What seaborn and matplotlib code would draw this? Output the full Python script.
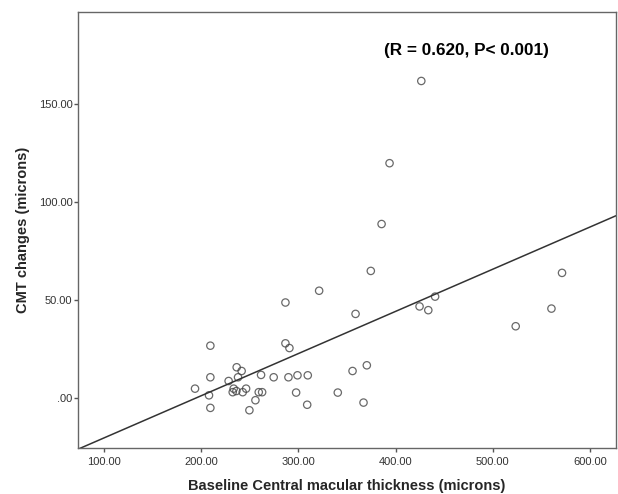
import numpy as np
import pandas as pd
import seaborn as sns
import matplotlib
matplotlib.use("Agg")
import matplotlib.pyplot as plt
from matplotlib.ticker import FuncFormatter

# values
baseline_cmt = [426.5, 393.8, 385.6, 374.5, 321.3, 286.6, 358.8, 424.7, 433.7, 440.7,
                571.4, 560.5, 523.7, 209.3, 286.6, 290.7, 236.4, 241.5, 370.4, 355.7,
                209.3, 228.1, 237.8, 261.5, 274.5, 289.7, 299.0, 309.6, 193.5, 207.9,
                233.3, 232.3, 236.1, 242.6, 246.1, 259.1, 262.6, 255.7, 297.6, 340.5,
                209.3, 249.5, 309.0, 367.0]
cmt_change = [161.7, 119.8, 88.8, 64.9, 54.8, 48.8, 43.0, 46.8, 44.9, 51.8,
              63.9, 45.7, 36.7, 26.8, 28.0, 25.6, 15.8, 13.9, 16.8, 13.9,
              10.7, 8.8, 10.7, 11.9, 10.7, 10.7, 11.7, 11.7, 4.9, 1.5,
              4.9, 3.1, 3.7, 3.1, 4.9, 3.1, 3.1, -1.0, 2.9, 2.9,
              -4.9, -6.1, -3.3, -2.2]
x_ticks = [100, 200, 300, 400, 500, 600]
y_ticks = [0, 50, 100, 150]
stats_label = "(R = 0.620, P< 0.001)"

df = pd.DataFrame({"baseline": baseline_cmt, "change": cmt_change})

sns.set_style("white")
plt.rcParams['font.family'] = ['Liberation Sans', 'DejaVu Sans']

fig = plt.figure(figsize=(6.18, 4.94), dpi=100)
ax = fig.add_axes([0.1262, 0.0925, 0.8706, 0.8838])

# limits first so the fit line spans the whole frame
ax.set_xlim(73, 627)
ax.set_ylim(-25.5, 197)

sns.regplot(data=df, x="baseline", y="change", ax=ax, ci=None, truncate=False,
            scatter_kws=dict(s=28, facecolors="none", edgecolors="#444444", linewidths=0.9),
            line_kws=dict(color="#333333", lw=1.1))

ax.set_xlim(73, 627)
ax.set_ylim(-25.5, 197)
ax.set_xticks(x_ticks)
ax.set_yticks(y_ticks)


def spss_fmt(v, pos):
    s = f"{v:.2f}"
    return s[1:] if s.startswith("0") else s


ax.xaxis.set_major_formatter(FuncFormatter(spss_fmt))
ax.yaxis.set_major_formatter(FuncFormatter(spss_fmt))
ax.tick_params(axis="both", which="major", direction="out", length=3, width=1,
               color="#555555", labelsize=8, labelcolor="#333333",
               bottom=True, left=True)
ax.tick_params(axis="x", pad=3)
ax.tick_params(axis="y", pad=1)
for sp in ax.spines.values():
    sp.set_color("#666666")
    sp.set_linewidth(1.0)

ax.set_xlabel("Baseline Central macular thickness (microns)", fontsize=10.5,
              fontweight="bold", labelpad=9)
ax.set_ylabel("CMT changes (microns)", fontsize=10.5, fontweight="bold", labelpad=6)

ax.text(0.569, 0.9107, stats_label, transform=ax.transAxes, ha="left", va="center",
        fontsize=12.3, fontweight="bold", color="black")

fig.savefig("out.png", dpi=100)
